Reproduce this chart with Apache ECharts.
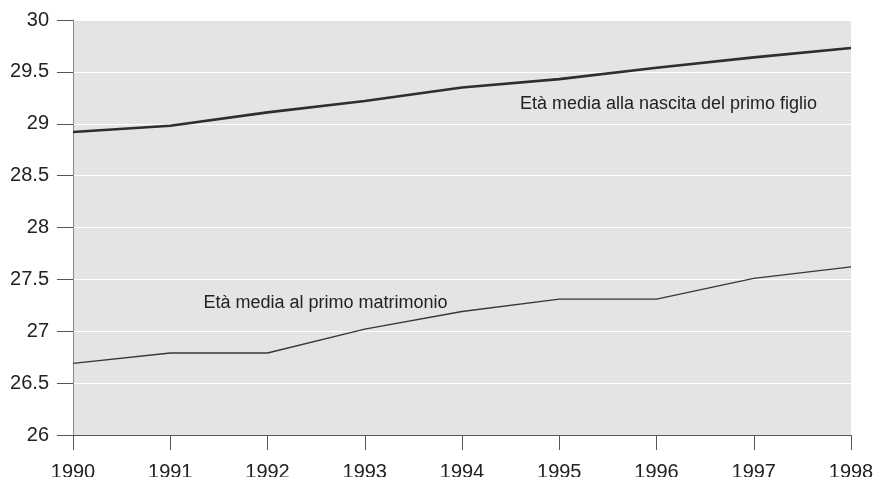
<!DOCTYPE html>
<html>
<head>
<meta charset="utf-8">
<script src="https://cdn.jsdelivr.net/npm/echarts@6/dist/echarts.min.js"></script>
<style>html,body{margin:0;padding:0;background:#fff;}#c{width:877px;height:477px;}</style>
</head>
<body>
<div id="c"></div>
<script>
const years = ['1990','1991','1992','1993','1994','1995','1996','1997','1998'];
const yTicks = [26, 26.5, 27, 27.5, 28, 28.5, 29, 29.5, 30];
const nameFirstChild = 'Età media alla nascita del primo figlio';
const nameMarriage = 'Età media al primo matrimonio';
const firstChild = [28.92, 28.98, 29.11, 29.22, 29.35, 29.43, 29.54, 29.64, 29.73];
const marriage = [26.69, 26.79, 26.79, 27.02, 27.19, 27.31, 27.31, 27.51, 27.62];

const font = '"Liberation Sans Narrow", "Liberation Sans", sans-serif';
const chart = echarts.init(document.getElementById('c'));
chart.setOption({
  animation: false,
  backgroundColor: '#ffffff',
  grid: { left: 73, right: 26, top: 20, bottom: 42, containLabel: false, outerBoundsMode: 'none',
    show: true, backgroundColor: '#e4e4e2', borderWidth: 0 },
  xAxis: {
    type: 'category', data: years, boundaryGap: false,
    axisLine: { lineStyle: { color: '#555', width: 1 } },
    axisTick: { show: true, inside: false, length: 15, lineStyle: { color: '#555' } },
    axisLabel: { color: '#222', fontFamily: font, fontSize: 20, margin: 27 },
    splitLine: { show: false }
  },
  yAxis: {
    type: 'value', min: 26, max: 30, interval: 0.5,
    axisLine: { show: true, lineStyle: { color: '#8a8a8a', width: 1 } },
    axisTick: { show: true, inside: false, length: 16, lineStyle: { color: '#555' } },
    axisLabel: { color: '#222', fontFamily: font, fontSize: 20, margin: 24,
      formatter: v => yTicks.includes(v) ? String(v) : '' },
    splitLine: { show: true, lineStyle: { color: '#ffffff', width: 1.2 } }
  },
  series: [
    { name: nameFirstChild, type: 'line', data: firstChild, symbol: 'none',
      lineStyle: { color: '#2a302c', width: 2.6 },
      markPoint: { symbol: 'circle', symbolSize: 0, data: [{ coord: ['1996', 29.19] }],
        label: { show: true, formatter: nameFirstChild, color: '#222', fontFamily: font, fontSize: 18, position: 'inside', offset: [12, 0] } } },
    { name: nameMarriage, type: 'line', data: marriage, symbol: 'none',
      lineStyle: { color: '#333a36', width: 1.4 },
      markPoint: { symbol: 'circle', symbolSize: 0, data: [{ coord: ['1992', 27.27] }],
        label: { show: true, formatter: nameMarriage, color: '#222', fontFamily: font, fontSize: 18, position: 'inside', offset: [58, 0] } } }
  ]
});
</script>
</body>
</html>
